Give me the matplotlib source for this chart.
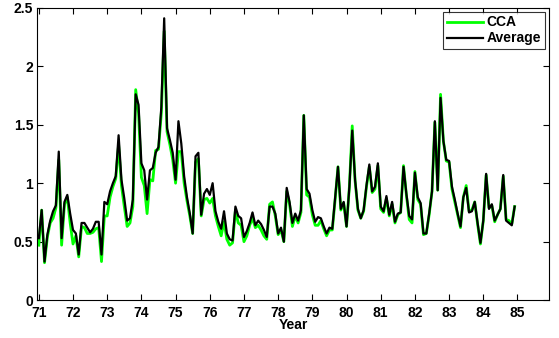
import numpy as np
import matplotlib
matplotlib.use("Agg")
import matplotlib.pyplot as plt

plt.rcParams['font.family'] = ['Liberation Sans', 'DejaVu Sans']
plt.rcParams['font.weight'] = 'bold'

start_year = 71
average = [
    0.53, 0.77, 0.33, 0.56, 0.68, 0.76, 0.81, 1.27, 0.53, 0.84, 0.90, 0.74,
    0.60, 0.57, 0.39, 0.66, 0.66, 0.62, 0.58, 0.61, 0.67, 0.67, 0.39, 0.84,
    0.82, 0.93, 1.00, 1.06, 1.41, 1.03, 0.87, 0.68, 0.70, 0.86, 1.76, 1.67,
    1.17, 1.11, 0.86, 1.11, 1.13, 1.26, 1.31, 1.65, 2.41, 1.47, 1.37, 1.26,
    1.03, 1.53, 1.34, 1.06, 0.88, 0.74, 0.57, 1.23, 1.26, 0.73, 0.91, 0.95,
    0.90, 1.00, 0.76, 0.67, 0.61, 0.76, 0.57, 0.52, 0.51, 0.80, 0.72, 0.70,
    0.54, 0.59, 0.66, 0.75, 0.64, 0.68, 0.65, 0.60, 0.54, 0.80, 0.80, 0.74,
    0.57, 0.62, 0.50, 0.96, 0.84, 0.66, 0.74, 0.68, 0.77, 1.58, 0.95, 0.91,
    0.77, 0.67, 0.71, 0.70, 0.63, 0.57, 0.62, 0.61, 0.88, 1.14, 0.78, 0.84,
    0.63, 0.97, 1.45, 1.03, 0.78, 0.70, 0.77, 0.98, 1.16, 0.93, 0.97, 1.17,
    0.80, 0.76, 0.89, 0.73, 0.84, 0.67, 0.74, 0.75, 1.14, 0.91, 0.72, 0.69,
    1.09, 0.88, 0.83, 0.57, 0.57, 0.74, 0.93, 1.53, 0.94, 1.73, 1.36, 1.20,
    1.19, 0.97, 0.86, 0.74, 0.63, 0.88, 0.96, 0.75, 0.76, 0.84, 0.66, 0.49,
    0.68, 1.08, 0.78, 0.82, 0.68, 0.73, 0.78, 1.07, 0.68, 0.66, 0.64, 0.80,
]
cca = [
    0.47, 0.77, 0.32, 0.54, 0.66, 0.70, 0.79, 1.20, 0.47, 0.82, 0.88, 0.66,
    0.48, 0.55, 0.37, 0.63, 0.62, 0.57, 0.57, 0.58, 0.61, 0.62, 0.33, 0.72,
    0.72, 0.88, 0.97, 1.04, 1.33, 0.98, 0.80, 0.63, 0.66, 0.80, 1.80, 1.60,
    1.05, 0.98, 0.74, 1.03, 1.02, 1.28, 1.29, 1.60, 2.30, 1.44, 1.33, 1.20,
    1.00, 1.27, 1.27, 1.00, 0.85, 0.72, 0.57, 1.18, 1.21, 0.72, 0.86, 0.87,
    0.83, 0.87, 0.72, 0.63, 0.55, 0.67, 0.52, 0.47, 0.49, 0.77, 0.66, 0.64,
    0.50, 0.55, 0.64, 0.70, 0.62, 0.64, 0.60, 0.55, 0.52, 0.82, 0.84, 0.72,
    0.56, 0.60, 0.50, 0.93, 0.82, 0.63, 0.72, 0.66, 0.75, 1.58, 0.90, 0.88,
    0.73, 0.64, 0.64, 0.68, 0.61, 0.55, 0.60, 0.60, 0.86, 1.14, 0.77, 0.83,
    0.63, 0.97, 1.49, 1.02, 0.77, 0.70, 0.76, 0.97, 1.14, 0.92, 0.95, 1.15,
    0.78, 0.75, 0.87, 0.72, 0.82, 0.66, 0.73, 0.75, 1.15, 0.90, 0.69, 0.66,
    1.10, 0.86, 0.82, 0.56, 0.57, 0.73, 0.93, 1.52, 0.94, 1.76, 1.36, 1.19,
    1.18, 0.95, 0.84, 0.73, 0.62, 0.88, 0.98, 0.76, 0.77, 0.84, 0.65, 0.48,
    0.68, 1.07, 0.79, 0.81, 0.67, 0.73, 0.78, 1.06, 0.69, 0.68, 0.65, 0.80,
]
x_ticks = list(range(71, 86))
y_ticks = [0, 0.5, 1, 1.5, 2, 2.5]
y_tick_labels = ['0', '0.5', '1', '1.5', '2', '2.5']

t = start_year + np.arange(len(average)) / 12.0

fig = plt.figure(figsize=(5.59, 3.38), dpi=100)
ax = fig.add_axes([0.067, 0.112, 0.915, 0.865])
ax.plot(t, cca, color='#00ff00', lw=2.0, label='CCA')
ax.plot(t, average, color='black', lw=1.6, label='Average')
ax.set_xlim(70.96, 85.92)
ax.set_ylim(0, 2.5)
ax.set_xticks(x_ticks)
ax.set_xticklabels([str(v) for v in x_ticks])
ax.set_yticks(y_ticks)
ax.set_yticklabels(y_tick_labels)
ax.tick_params(direction='in', top=True, right=True, length=4, width=0.8,
               labelsize=10)
ax.tick_params(axis='x', pad=4)
ax.tick_params(axis='y', pad=3)
for lab in ax.get_xticklabels() + ax.get_yticklabels():
    lab.set_fontweight('bold')
for s in ax.spines.values():
    s.set_linewidth(0.8)
ax.set_xlabel('Year', fontsize=10, fontweight='bold', labelpad=-1)
leg = ax.legend(loc='upper right', fontsize=10, frameon=True, fancybox=False,
                edgecolor='black', borderpad=0.25, labelspacing=0.15,
                handlelength=2.6, handletextpad=0.3, borderaxespad=0.3)
leg.get_frame().set_linewidth(0.8)
for txt in leg.get_texts():
    txt.set_fontweight('bold')
fig.savefig('out.png', dpi=100)
